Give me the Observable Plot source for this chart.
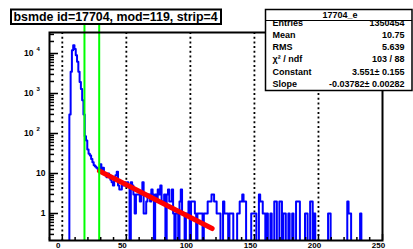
<!DOCTYPE html>
<html><head><meta charset="utf-8">
<script src="https://cdn.jsdelivr.net/npm/d3@7"></script>
<script src="https://cdn.jsdelivr.net/npm/@observablehq/plot@0.6"></script>
<style>
html,body{margin:0;padding:0;background:#fff;}
#wrap{position:relative;width:413px;height:249px;overflow:hidden;font-family:"Liberation Sans",Arial,sans-serif;}
#wrap svg{position:absolute;left:0;top:0;}
</style>
</head><body>
<div id="wrap"></div>
<script>
// ---- data ----
const titleText = "bsmde id=17704, mod=119, strip=4";
const binStart = 6; // centre of first filled bin, bins are 1 unit wide
const counts = [
  300, 3500, 12000, 16000, 13000, 9100, 6200, 3500, 1950, 1300, 680, 300,
  85, 67, 40, 31, 28, 23, 19, 16, 15, 14, 13, 12,
  17, 13, 14, 10, 9, 8, 10, 8, 7, 6, 5, 8,
  9, 11, 5, 4, 4, 6, 5, 6, 5, 6, 5, 0,
  6, 5, 3, 1, 3, 3, 3, 2, 3, 6, 1, 1,
  2, 3, 3, 2, 4, 3, 0, 3, 2, 4, 3, 5,
  2, 2, 3, 0, 3, 4, 2, 2, 4, 1, 0, 1,
  1, 0, 2, 4, 1, 1, 0, 1, 1, 2, 0, 2,
  2, 2, 1, 0, 1, 1, 1, 1, 0, 1, 1, 1,
  2, 2, 2, 3, 3, 2, 2, 1, 1, 1, 0, 0,
  2, 1, 1, 1, 0, 1, 1, 1, 0, 0, 0, 1,
  1, 2, 2, 3, 2, 2, 0, 0, 0, 0, 1, 1,
  1, 1, 0, 0, 3, 2, 2, 1, 1, 0, 1, 0,
  0, 1, 0, 0, 2, 2, 0, 0, 2, 2, 0, 1,
  1, 0, 0, 1, 0, 0, 1, 0, 0, 2, 2, 2,
  0, 0, 0, 0, 1, 1, 0, 0, 2, 2, 0, 1,
  0, 0, 0, 0, 0, 0, 0, 0, 0, 0, 1, 1,
  0, 0, 0, 0, 0, 0, 0, 0, 0, 0, 0, 0,
  0, 2, 1, 1, 0, 0, 0, 0, 0, 0, 0, 1,
  0
];
const fitX = [29, 117];
const fitY = [11.6, 0.42];
const cutX = [17.3, 28.8];
const gridX = [0, 50, 100, 150, 200];
const xLabels = [0, 50, 100, 150, 200, 250];
const yPlain = [1, 10];
const yPow = [100, 1000, 10000];
const yPowExp = ["2", "3", "4"];
const statsTitle = "17704_e";
const statNames = ["Entries", "Mean", "RMS", "\u03C7\u00B2 / ndf", "Constant", "Slope"];
const statValues = ["1350454", "10.75", "5.639", "103 / 88", "3.551\u00B1 0.155", "-0.03782\u00B1 0.00282"];

// ---- layout ----
const W = 413, H = 249;
const mL = 49, mR = 31, mT = 32, mB = 9;
const fw = W - mL - mR, fh = H - mT - mB;
const xDom = [-10, 250];
const yDom = [0.2113, 33500];
const floorVal = 0.05;

// step outline table built from the counts
const histPts = [{x: binStart - 0.5, y: floorVal}];
counts.forEach((c, i) => histPts.push({x: binStart + i - 0.5, y: c > 0 ? c : floorVal}));
histPts.push({x: binStart + counts.length - 0.5, y: floorVal});
histPts.push({x: 260, y: floorVal});
const fitPts = fitX.map((x, i) => ({x, y: fitY[i]}));

// tick positions
const yMajor = [1, 10, 100, 1000, 10000];
const yMinor = [];
for (let e = -1; e <= 4; e++) for (let m = 2; m <= 9; m++) {
  const v = m * Math.pow(10, e);
  if (v > yDom[0] && v < yDom[1]) yMinor.push(v);
}
const xMinor = [];
for (let v = -10; v <= 250; v += 10) if (v % 50 !== 0) xMinor.push(v);

const font = "Liberation Sans, Arial, sans-serif";
const chart = Plot.plot({
  width: W, height: H,
  marginLeft: mL, marginRight: mR, marginTop: mT, marginBottom: mB,
  x: {domain: xDom, axis: null},
  y: {type: "log", domain: yDom, axis: null},
  style: {fontFamily: font, fontWeight: "bold", fontSize: "8.5px", background: "transparent", overflow: "visible"},
  marks: [
    Plot.ruleX(gridX, {x: d => d, stroke: "#000", strokeWidth: 1.8, strokeDasharray: "2,2.7"}),
    Plot.line(histPts, {x: "x", y: "y", curve: "step-after", stroke: "#0000ff", strokeWidth: 2, clip: true}),
    Plot.line(fitPts, {x: "x", y: "y", stroke: "#ff0000", strokeWidth: 5, clip: true}),
    Plot.ruleX(cutX, {x: d => d, y1: yDom[0], y2: 100000, stroke: "#00ff00", strokeWidth: 2}),
    Plot.frame({stroke: "#000", strokeWidth: 2}),
    Plot.tickY(yMajor, {y: d => d, insetRight: fw - 9, stroke: "#000", strokeWidth: 1.5}),
    Plot.tickY(yMinor, {y: d => d, insetRight: fw - 5, stroke: "#000", strokeWidth: 1.5}),
    Plot.tickX(xLabels, {x: d => d, insetTop: fh - 6, stroke: "#000", strokeWidth: 1.5}),
    Plot.tickX(xMinor, {x: d => d, insetTop: fh - 3, stroke: "#000", strokeWidth: 1.5}),
    Plot.text(xLabels, {x: d => d, y: yDom[0], text: d => String(d), dx: -4, dy: 2, lineAnchor: "top", fontSize: 8, fill: "#000"}),
    Plot.text(yPlain, {x: xDom[0], y: d => d, text: d => String(d), dx: -4, textAnchor: "end", fill: "#000"}),
    Plot.text(yPow, {x: xDom[0], y: d => d, text: d => "10", dx: -16, textAnchor: "end", fill: "#000"}),
    Plot.text(yPow, {x: xDom[0], y: d => d, text: (d, i) => yPowExp[i], dx: -13, dy: -4, textAnchor: "start", fontSize: 6, fill: "#000"})
  ]
});
document.getElementById("wrap").appendChild(chart);

// ---- title and statistics boxes ----
const ov = d3.select("#wrap").append("svg").attr("width", W).attr("height", H)
  .style("pointer-events", "none").attr("font-family", font).attr("font-weight", "bold");
ov.append("rect").attr("x", 11).attr("y", 9.5).attr("width", 210).attr("height", 14.5)
  .attr("fill", "#fff").attr("stroke", "#000").attr("stroke-width", 2);
ov.append("text").attr("x", 13.5).attr("y", 20.5).attr("font-size", 12.4).text(titleText);

ov.append("defs").append("clipPath").attr("id", "statclip").append("rect")
  .attr("x", 265).attr("y", 21).attr("width", 148).attr("height", 70);
ov.append("rect").attr("x", 265.5).attr("y", 9.5).attr("width", 146.5).attr("height", 81)
  .attr("fill", "#fff").attr("stroke", "#000").attr("stroke-width", 1.5);
ov.append("line").attr("x1", 265.5).attr("x2", 412).attr("y1", 20.5).attr("y2", 20.5)
  .attr("stroke", "#000").attr("stroke-width", 1);
ov.append("text").attr("x", 340).attr("y", 18).attr("font-size", 9).attr("text-anchor", "middle").text(statsTitle);
const g = ov.append("g").attr("clip-path", "url(#statclip)").attr("font-size", 9);
statNames.forEach((n, i) => {
  const yb = 25.5 + i * 12.3;
  g.append("text").attr("x", 272.5).attr("y", yb).text(n);
  g.append("text").attr("x", 404.5).attr("y", yb).attr("text-anchor", "end").text(statValues[i]);
});
</script>
</body></html>
